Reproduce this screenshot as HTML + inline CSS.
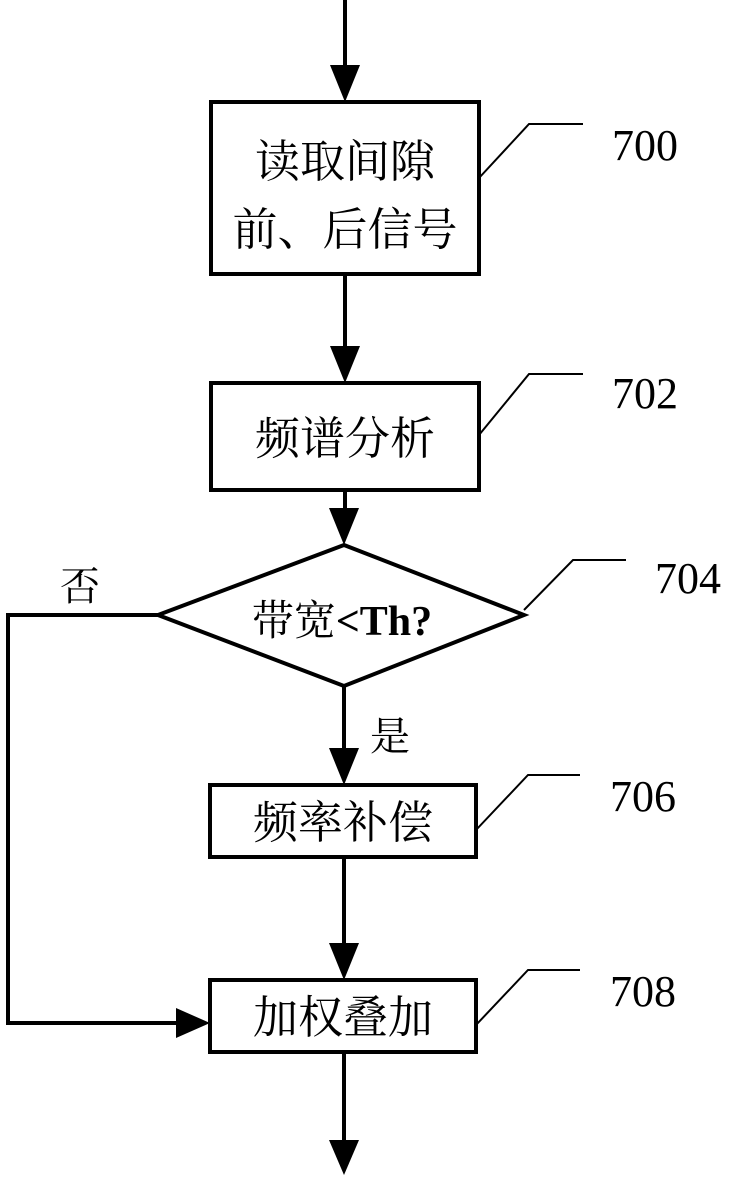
<!DOCTYPE html>
<html><head><meta charset="utf-8"><style>
body{margin:0;background:#fff}
svg text{font-family:"Liberation Serif","Noto Serif CJK SC",serif;fill:#000}
</style></head><body>
<svg width="731" height="1175" viewBox="0 0 731 1175" xmlns="http://www.w3.org/2000/svg">
<g stroke="#000" stroke-width="4" fill="none">
<line x1="345" y1="0" x2="345" y2="75"/>
<rect x="211" y="102" width="268" height="172"/>
<line x1="345" y1="274" x2="345" y2="355"/>
<rect x="211" y="383" width="268" height="107"/>
<line x1="345" y1="490" x2="345" y2="518"/>
<polygon points="344,545 524,615 344,686 158,615"/>
<line x1="344" y1="686" x2="344" y2="758"/>
<rect x="210" y="785" width="266" height="72"/>
<line x1="344" y1="857" x2="344" y2="950"/>
<rect x="210" y="980" width="266" height="72"/>
<polyline points="158,615 8,615 8,1023 180,1023"/>
<line x1="344" y1="1052" x2="344" y2="1145"/>
</g>
<g stroke="#000" stroke-width="2" fill="none">
<polyline points="479,178 529,124 583,124"/>
<polyline points="479,435 529,374 583,374"/>
<polyline points="524,610 573,560 626,560"/>
<polyline points="476,830 528,775 580,775"/>
<polyline points="476,1025 528,970 580,970"/>
</g>
<g fill="#000">
<polygon points="330,65 360,65 345,102"/>
<polygon points="330,346 360,346 345,383"/>
<polygon points="329,508 359,508 344,545"/>
<polygon points="329,748 359,748 344,785"/>
<polygon points="329,943 359,943 344,980"/>
<polygon points="176,1008 176,1038 210,1023"/>
<polygon points="329,1140 359,1140 344,1175"/>
</g>
<g font-size="45" text-anchor="middle">
<text x="345" y="177">读取间隙</text>
<text x="345" y="245">前、后信号</text>
<text x="345" y="454">频谱分析</text>
<text x="343" y="838">频率补偿</text>
<text x="343" y="1033">加权叠加</text>
</g>
<text x="342" y="635" font-size="42" text-anchor="middle"><tspan>带宽</tspan><tspan font-weight="bold">&lt;Th?</tspan></text>
<text x="60" y="600" font-size="40">否</text>
<text x="370" y="750" font-size="40">是</text>
<g font-size="44">
<text x="612" y="160">700</text>
<text x="612" y="408">702</text>
<text x="655" y="593">704</text>
<text x="610" y="811">706</text>
<text x="610" y="1006">708</text>
</g>
</svg>
</body></html>
